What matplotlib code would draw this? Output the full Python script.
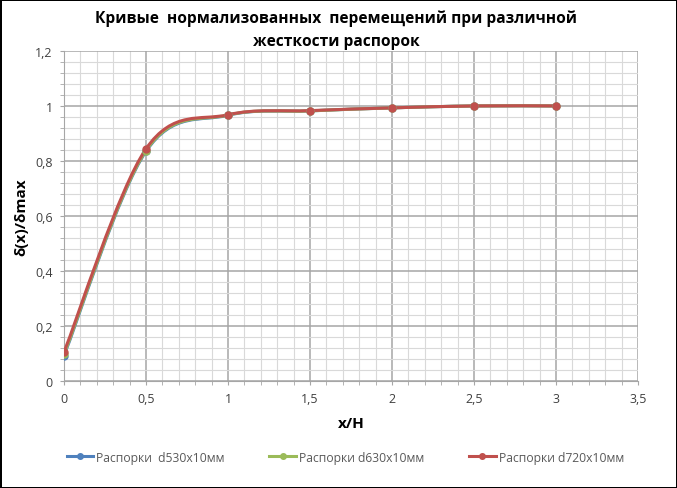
import matplotlib

matplotlib.use("Agg")

import matplotlib.pyplot as plt
from matplotlib.lines import Line2D
from matplotlib.patches import PathPatch
from matplotlib.path import Path
from matplotlib.ticker import FuncFormatter, MultipleLocator

plt.rcParams["font.family"] = ["Open Sans", "DejaVu Sans"]

x_h = [0, 0.5, 1, 1.5, 2, 2.5, 3]
d530 = [0.092, 0.835, 0.966, 0.982, 0.993, 1.0, 1.0]
d630 = [0.097, 0.838, 0.967, 0.982, 0.993, 1.0, 1.0]
d720 = [0.105, 0.844, 0.968, 0.983, 0.993, 1.0, 1.0]
labels = ["Распорки  d530x10мм", "Распорки d630x10мм", "Распорки d720x10мм"]
colors = ["#4F81BD", "#9BBB59", "#C0504D"]


def smooth_path(xs, ys):
    # excel-like smoothed line: cubic bezier segments through the points
    pts = list(zip(xs, ys))
    verts = [pts[0]]
    codes = [Path.MOVETO]
    n = len(pts)
    for i in range(n - 1):
        p0 = pts[max(i - 1, 0)]
        p1 = pts[i]
        p2 = pts[i + 1]
        p3 = pts[min(i + 2, n - 1)]
        c1 = (p1[0] + (p2[0] - p0[0]) / 6, p1[1] + (p2[1] - p0[1]) / 6)
        c2 = (p2[0] - (p3[0] - p1[0]) / 6, p2[1] - (p3[1] - p1[1]) / 6)
        verts += [c1, c2, p2]
        codes += [Path.CURVE4] * 3
    return Path(verts, codes)


fig = plt.figure(figsize=(6.77, 4.89), dpi=100)
fig.patch.set_edgecolor("black")
fig.patch.set_linewidth(2)
ax = fig.add_axes([0.0945, 0.2188, 0.848, 0.675])

handles = []
for ys, c, lab in zip([d530, d630, d720], colors, labels):
    ax.add_patch(PathPatch(smooth_path(x_h, ys), facecolor="none",
                           edgecolor=c, linewidth=2.2, zorder=3))
    ax.plot(x_h, ys, "o", color=c, markersize=5, zorder=4)
    handles.append(Line2D([], [], color=c, linewidth=2.2, marker="o",
                          markersize=4, label=lab))

ax.set_xlim(0, 3.5)
ax.set_ylim(0, 1.2)
ax.xaxis.set_major_locator(MultipleLocator(0.5))
ax.xaxis.set_minor_locator(MultipleLocator(0.1))
ax.yaxis.set_major_locator(MultipleLocator(0.2))
ax.yaxis.set_minor_locator(MultipleLocator(0.04))
fmt = FuncFormatter(lambda v, p: ("%g" % round(v, 2)).replace(".", ","))
ax.xaxis.set_major_formatter(fmt)
ax.yaxis.set_major_formatter(fmt)
ax.grid(which="major", color="#A6A6A6", linewidth=1.1)
ax.grid(which="minor", color="#D9D9D9", linewidth=0.8)
ax.set_axisbelow(True)
ax.tick_params(which="both", direction="out", length=3, color="#A6A6A6",
               labelsize=9, labelcolor="#404040", pad=5)
for s in ["top", "right"]:
    ax.spines[s].set_visible(False)
for s in ["left", "bottom"]:
    ax.spines[s].set_color("#A6A6A6")

ax.set_xlabel("x/H", fontsize=11, fontweight="bold", labelpad=8)
ax.set_ylabel("δ(x)/δmax", fontsize=11, fontweight="bold", labelpad=5)
fig.text(0.497, 0.938, "Кривые  нормализованных  перемещений при различной\nжесткости распорок",
         ha="center", va="center", fontsize=11.2, fontweight="bold", linespacing=1.6)

fig.legend(handles=handles, loc="center", bbox_to_anchor=(0.51, 0.063), ncol=3,
           frameon=False, fontsize=8.7, labelcolor="#595959", columnspacing=3.7,
           handlelength=2.2, handletextpad=0.25)

fig.savefig("out.png", dpi=100)
